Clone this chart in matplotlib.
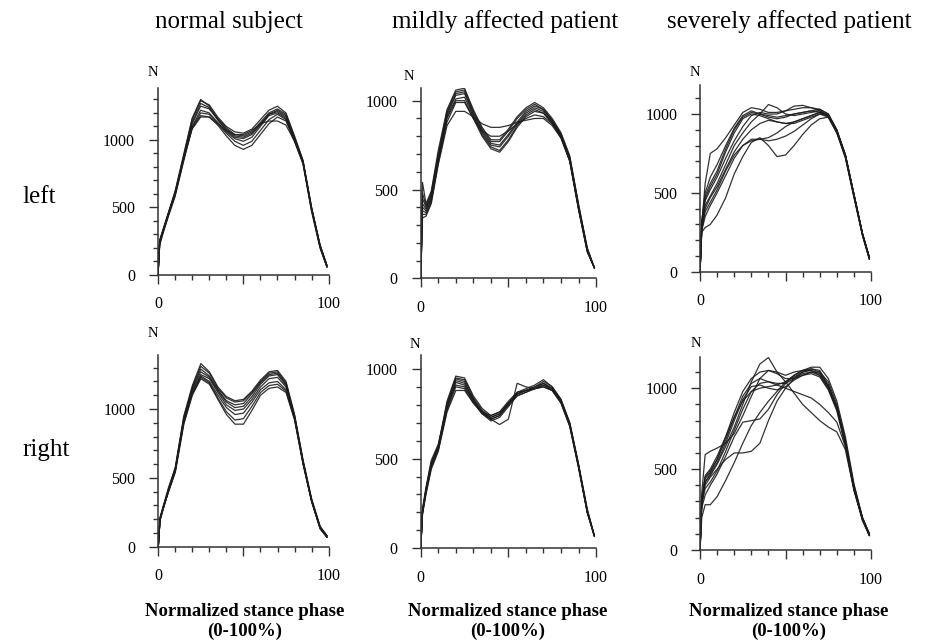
"""
Vertical ground reaction force over the stance phase, left and right foot,
for a normal subject, a mildly affected and a severely affected patient.
"""

import matplotlib
matplotlib.use("Agg")
import matplotlib.pyplot as plt
from matplotlib.ticker import MultipleLocator, FixedLocator

plt.rcParams["font.family"] = ["Liberation Serif", "DejaVu Serif"]

# --- Data (N vs % stance) ---
stance_pct = [0, 1, 3, 6, 10, 15, 20, 25, 30, 35, 40, 45, 50, 55, 60, 65, 70, 75, 80, 85, 90, 95, 99]

normal_left = [
    [0, 250, 330, 450, 610, 880, 1150, 1290, 1260, 1170, 1100, 1060, 1050, 1080, 1150, 1220, 1250, 1200, 1030, 850, 500, 220, 70],
    [0, 230, 320, 440, 600, 860, 1130, 1270, 1240, 1160, 1090, 1040, 1030, 1060, 1130, 1200, 1230, 1190, 1020, 840, 490, 210, 60],
    [0, 260, 340, 460, 620, 890, 1160, 1300, 1250, 1150, 1070, 1020, 1010, 1040, 1110, 1190, 1220, 1180, 1010, 840, 490, 220, 70],
    [0, 240, 320, 440, 590, 850, 1120, 1250, 1230, 1150, 1080, 1030, 1020, 1050, 1120, 1190, 1210, 1170, 1000, 830, 480, 200, 60],
    [0, 250, 330, 450, 600, 860, 1100, 1220, 1200, 1130, 1060, 1010, 990, 1020, 1100, 1180, 1200, 1160, 1010, 840, 500, 220, 70],
    [0, 220, 310, 430, 580, 840, 1090, 1200, 1190, 1120, 1050, 990, 960, 990, 1070, 1150, 1190, 1150, 990, 820, 470, 200, 60],
    [0, 240, 330, 450, 600, 860, 1080, 1170, 1170, 1110, 1030, 960, 930, 960, 1040, 1120, 1170, 1140, 1000, 830, 490, 210, 60],
    [0, 250, 330, 450, 610, 860, 1090, 1180, 1170, 1120, 1070, 1040, 1040, 1070, 1120, 1140, 1140, 1110, 990, 830, 490, 210, 70],
]

normal_right = [
    [0, 200, 290, 420, 580, 950, 1170, 1330, 1270, 1160, 1090, 1060, 1070, 1130, 1210, 1270, 1280, 1200, 960, 630, 350, 150, 80],
    [0, 190, 280, 410, 560, 930, 1160, 1310, 1260, 1150, 1080, 1050, 1060, 1120, 1200, 1260, 1270, 1190, 950, 620, 340, 140, 70],
    [0, 210, 300, 430, 570, 940, 1150, 1290, 1240, 1140, 1060, 1030, 1040, 1110, 1190, 1250, 1260, 1180, 950, 620, 340, 140, 80],
    [0, 200, 290, 410, 560, 920, 1140, 1270, 1230, 1130, 1050, 1010, 1020, 1090, 1180, 1240, 1250, 1170, 940, 610, 330, 140, 70],
    [0, 190, 280, 400, 550, 910, 1130, 1250, 1220, 1120, 1030, 990, 1000, 1070, 1160, 1220, 1230, 1160, 940, 610, 330, 130, 70],
    [0, 200, 290, 410, 560, 920, 1120, 1240, 1200, 1100, 1010, 960, 970, 1050, 1140, 1190, 1200, 1140, 930, 600, 330, 130, 70],
    [0, 210, 290, 400, 550, 900, 1110, 1230, 1190, 1080, 980, 920, 930, 1020, 1120, 1170, 1180, 1130, 930, 610, 340, 140, 80],
    [0, 190, 280, 400, 540, 890, 1100, 1220, 1180, 1070, 960, 890, 890, 990, 1100, 1150, 1160, 1120, 920, 600, 330, 140, 70],
]

mild_left = [
    [0, 540, 420, 490, 720, 950, 1060, 1070, 950, 850, 780, 780, 840, 910, 960, 990, 960, 900, 820, 690, 420, 170, 60],
    [0, 480, 410, 480, 700, 940, 1050, 1060, 940, 840, 770, 770, 830, 900, 950, 980, 950, 890, 810, 680, 410, 170, 60],
    [0, 450, 400, 470, 690, 930, 1040, 1050, 930, 830, 760, 750, 810, 880, 940, 970, 950, 890, 810, 680, 410, 160, 60],
    [0, 420, 390, 460, 680, 920, 1030, 1040, 920, 820, 750, 740, 800, 870, 930, 960, 940, 880, 800, 670, 400, 160, 60],
    [0, 400, 380, 450, 670, 910, 1010, 1020, 910, 810, 740, 720, 780, 860, 920, 950, 930, 880, 800, 670, 400, 160, 60],
    [0, 380, 370, 440, 660, 900, 1000, 1000, 900, 800, 730, 710, 770, 850, 910, 940, 930, 870, 800, 660, 390, 150, 60],
    [0, 360, 360, 430, 650, 880, 990, 990, 900, 830, 800, 800, 830, 870, 900, 920, 910, 870, 790, 660, 390, 150, 60],
    [0, 340, 350, 420, 640, 860, 940, 940, 910, 870, 850, 850, 860, 880, 890, 900, 900, 860, 790, 660, 390, 150, 60],
]

mild_right = [
    [0, 210, 330, 480, 570, 820, 960, 950, 850, 780, 740, 760, 820, 870, 890, 910, 940, 900, 830, 700, 470, 220, 70],
    [0, 200, 320, 470, 560, 810, 950, 940, 840, 770, 730, 750, 810, 860, 880, 900, 930, 900, 830, 700, 470, 210, 70],
    [0, 220, 340, 490, 580, 800, 945, 930, 830, 760, 720, 740, 800, 860, 880, 900, 920, 890, 820, 690, 460, 210, 70],
    [0, 200, 320, 460, 560, 790, 935, 920, 830, 760, 720, 740, 800, 850, 870, 890, 920, 890, 820, 690, 460, 210, 70],
    [0, 190, 310, 450, 550, 780, 925, 910, 820, 750, 710, 730, 790, 850, 870, 890, 910, 890, 820, 690, 460, 200, 70],
    [0, 210, 330, 470, 570, 790, 910, 900, 820, 760, 730, 750, 800, 860, 880, 890, 910, 880, 820, 690, 460, 200, 70],
    [0, 200, 320, 460, 550, 770, 900, 890, 810, 760, 740, 760, 810, 870, 880, 890, 900, 880, 810, 680, 450, 200, 70],
    [0, 190, 300, 440, 540, 760, 880, 880, 810, 750, 720, 690, 720, 920, 900, 890, 900, 880, 810, 680, 450, 200, 70],
]

severe_left = [
    [0, 300, 560, 750, 780, 850, 930, 1010, 1040, 1030, 1010, 1010, 1020, 1030, 1040, 1040, 1030, 1000, 900, 740, 490, 240, 90],
    [0, 250, 280, 300, 360, 470, 620, 730, 820, 850, 800, 730, 740, 800, 870, 930, 970, 980, 880, 730, 480, 240, 90],
    [0, 280, 420, 480, 560, 680, 800, 880, 950, 1000, 1060, 1040, 1000, 990, 1000, 1010, 1020, 990, 890, 730, 490, 240, 90],
    [0, 320, 480, 560, 640, 780, 900, 980, 1010, 1000, 990, 980, 990, 1000, 1010, 1020, 1030, 1000, 900, 740, 490, 240, 90],
    [0, 260, 400, 470, 540, 650, 760, 840, 900, 940, 960, 950, 940, 950, 970, 990, 1010, 990, 890, 730, 480, 230, 80],
    [0, 300, 450, 520, 600, 720, 830, 920, 990, 1010, 1000, 1000, 1020, 1050, 1055, 1040, 1020, 990, 890, 740, 490, 240, 90],
    [0, 270, 380, 440, 520, 640, 740, 800, 830, 840, 850, 880, 920, 950, 970, 990, 1010, 990, 890, 730, 480, 230, 80],
    [0, 290, 460, 540, 620, 760, 880, 970, 1000, 990, 970, 950, 940, 940, 960, 980, 1000, 990, 890, 740, 490, 240, 90],
    [0, 260, 350, 420, 500, 610, 720, 800, 840, 840, 830, 840, 860, 890, 930, 970, 1000, 980, 880, 720, 470, 230, 80],
    [0, 310, 500, 600, 680, 800, 910, 990, 1020, 1000, 980, 970, 980, 1000, 1010, 1020, 1010, 990, 890, 740, 490, 240, 90],
]

severe_right = [
    [0, 350, 590, 610, 630, 660, 720, 830, 950, 1060, 1110, 1100, 1080, 1100, 1110, 1110, 1080, 1000, 880, 670, 390, 200, 100],
    [0, 300, 400, 450, 500, 560, 600, 600, 610, 660, 800, 920, 1000, 1060, 1100, 1120, 1100, 1010, 880, 660, 380, 190, 100],
    [0, 200, 280, 280, 330, 430, 540, 660, 770, 850, 920, 980, 1040, 1080, 1110, 1120, 1110, 1020, 880, 660, 380, 190, 90],
    [0, 300, 420, 460, 530, 640, 760, 900, 1040, 1150, 1190, 1100, 1040, 970, 900, 850, 800, 760, 730, 620, 370, 190, 90],
    [0, 320, 450, 490, 560, 680, 820, 950, 1030, 1060, 1040, 1020, 1000, 980, 960, 940, 900, 850, 790, 640, 380, 190, 90],
    [0, 300, 440, 480, 560, 700, 850, 980, 1060, 1100, 1110, 1090, 1060, 1060, 1080, 1100, 1100, 1040, 900, 680, 400, 200, 100],
    [0, 280, 380, 420, 490, 610, 740, 870, 980, 1030, 1040, 1030, 1030, 1060, 1090, 1100, 1080, 1000, 870, 650, 380, 190, 90],
    [0, 260, 340, 400, 470, 580, 700, 790, 800, 810, 870, 960, 1030, 1080, 1110, 1130, 1130, 1060, 920, 700, 410, 200, 100],
    [0, 280, 420, 470, 540, 660, 800, 930, 1010, 1020, 1000, 990, 1010, 1050, 1080, 1090, 1070, 990, 860, 640, 370, 180, 90],
    [0, 310, 460, 500, 580, 700, 820, 920, 980, 1000, 1010, 1020, 1040, 1070, 1100, 1110, 1090, 1020, 880, 660, 390, 190, 100],
]

col_titles = ["normal subject", "mildly affected patient", "severely affected patient"]
row_titles = ["left", "right"]
xlabel_lines = ["Normalized stance phase", "(0-100%)"]

# --- Layout (pixel-derived axes boxes, y-axis tops, "N" offsets in px) ---
panels = [
    (normal_left, [0.1688, 0.5717, 0.1823, 0.2913], 1385, (-5, 15)),
    (mild_left, [0.4495, 0.5665, 0.1873, 0.2960], 1070, (-12, 12)),
    (severe_left, [0.7479, 0.5768, 0.1827, 0.2908], 1184, (-5, 13)),
    (normal_right, [0.1691, 0.1484, 0.1820, 0.2986], 1392, (-5, 22)),
    (mild_right, [0.4495, 0.1460, 0.1873, 0.3011], 1078, (-6, 10)),
    (severe_right, [0.7479, 0.1433, 0.1827, 0.3011], 1195, (-4, 13)),
]

px = 72 / 100  # points per pixel at dpi=100
ink = "#1c1c1c"

fig = plt.figure(figsize=(9.36, 6.42), dpi=100)

for curves, rect, ytop, n_off in panels:
    ax = fig.add_axes(rect)
    for c in curves:
        ax.plot(stance_pct, c, color=ink, lw=0.9, alpha=0.9)

    ax.set_xlim(0, 100)
    ax.set_ylim(0, ytop)
    ax.spines["top"].set_visible(False)
    ax.spines["right"].set_visible(False)
    for s in ("left", "bottom"):
        ax.spines[s].set_linewidth(1.1)
        ax.spines[s].set_color("#333333")

    ax.xaxis.set_major_locator(FixedLocator([0, 50, 100]))
    ax.set_xticklabels(["0", "", "100"])
    ax.xaxis.set_minor_locator(MultipleLocator(10))
    ax.yaxis.set_major_locator(FixedLocator([0, 500, 1000]))
    ax.yaxis.set_minor_locator(MultipleLocator(100))

    ax.tick_params(which="major", length=9 * px, width=1.0, color="#333333",
                   labelsize=11.5, pad=9)
    ax.tick_params(which="minor", length=5 * px, width=1.0, color="#333333")
    ax.tick_params(axis="y", which="major", pad=10)

    ax.annotate("N", xy=(0, 1), xycoords="axes fraction",
                xytext=(n_off[0] * px, n_off[1] * px), textcoords="offset points",
                ha="center", va="center", fontsize=10.5)

# --- Column / row titles and x labels ---
col_x = [229 / 936, 505 / 936, 789 / 936]
xlab_x = [245 / 936, 508 / 936, 789 / 936]
for t, cx in zip(col_titles, col_x):
    fig.text(cx, 1 - 22 / 642, t, ha="center", va="center", fontsize=18)
for t, ry in zip(row_titles, [197, 450]):
    fig.text(22 / 936, 1 - ry / 642, t, ha="left", va="center", fontsize=18)
for lx in xlab_x:
    for line, ly in zip(xlabel_lines, [611, 631]):
        fig.text(lx, 1 - ly / 642, line, ha="center", va="center",
                 fontsize=13.5, fontweight="bold")

fig.savefig("out.png", dpi=100)
